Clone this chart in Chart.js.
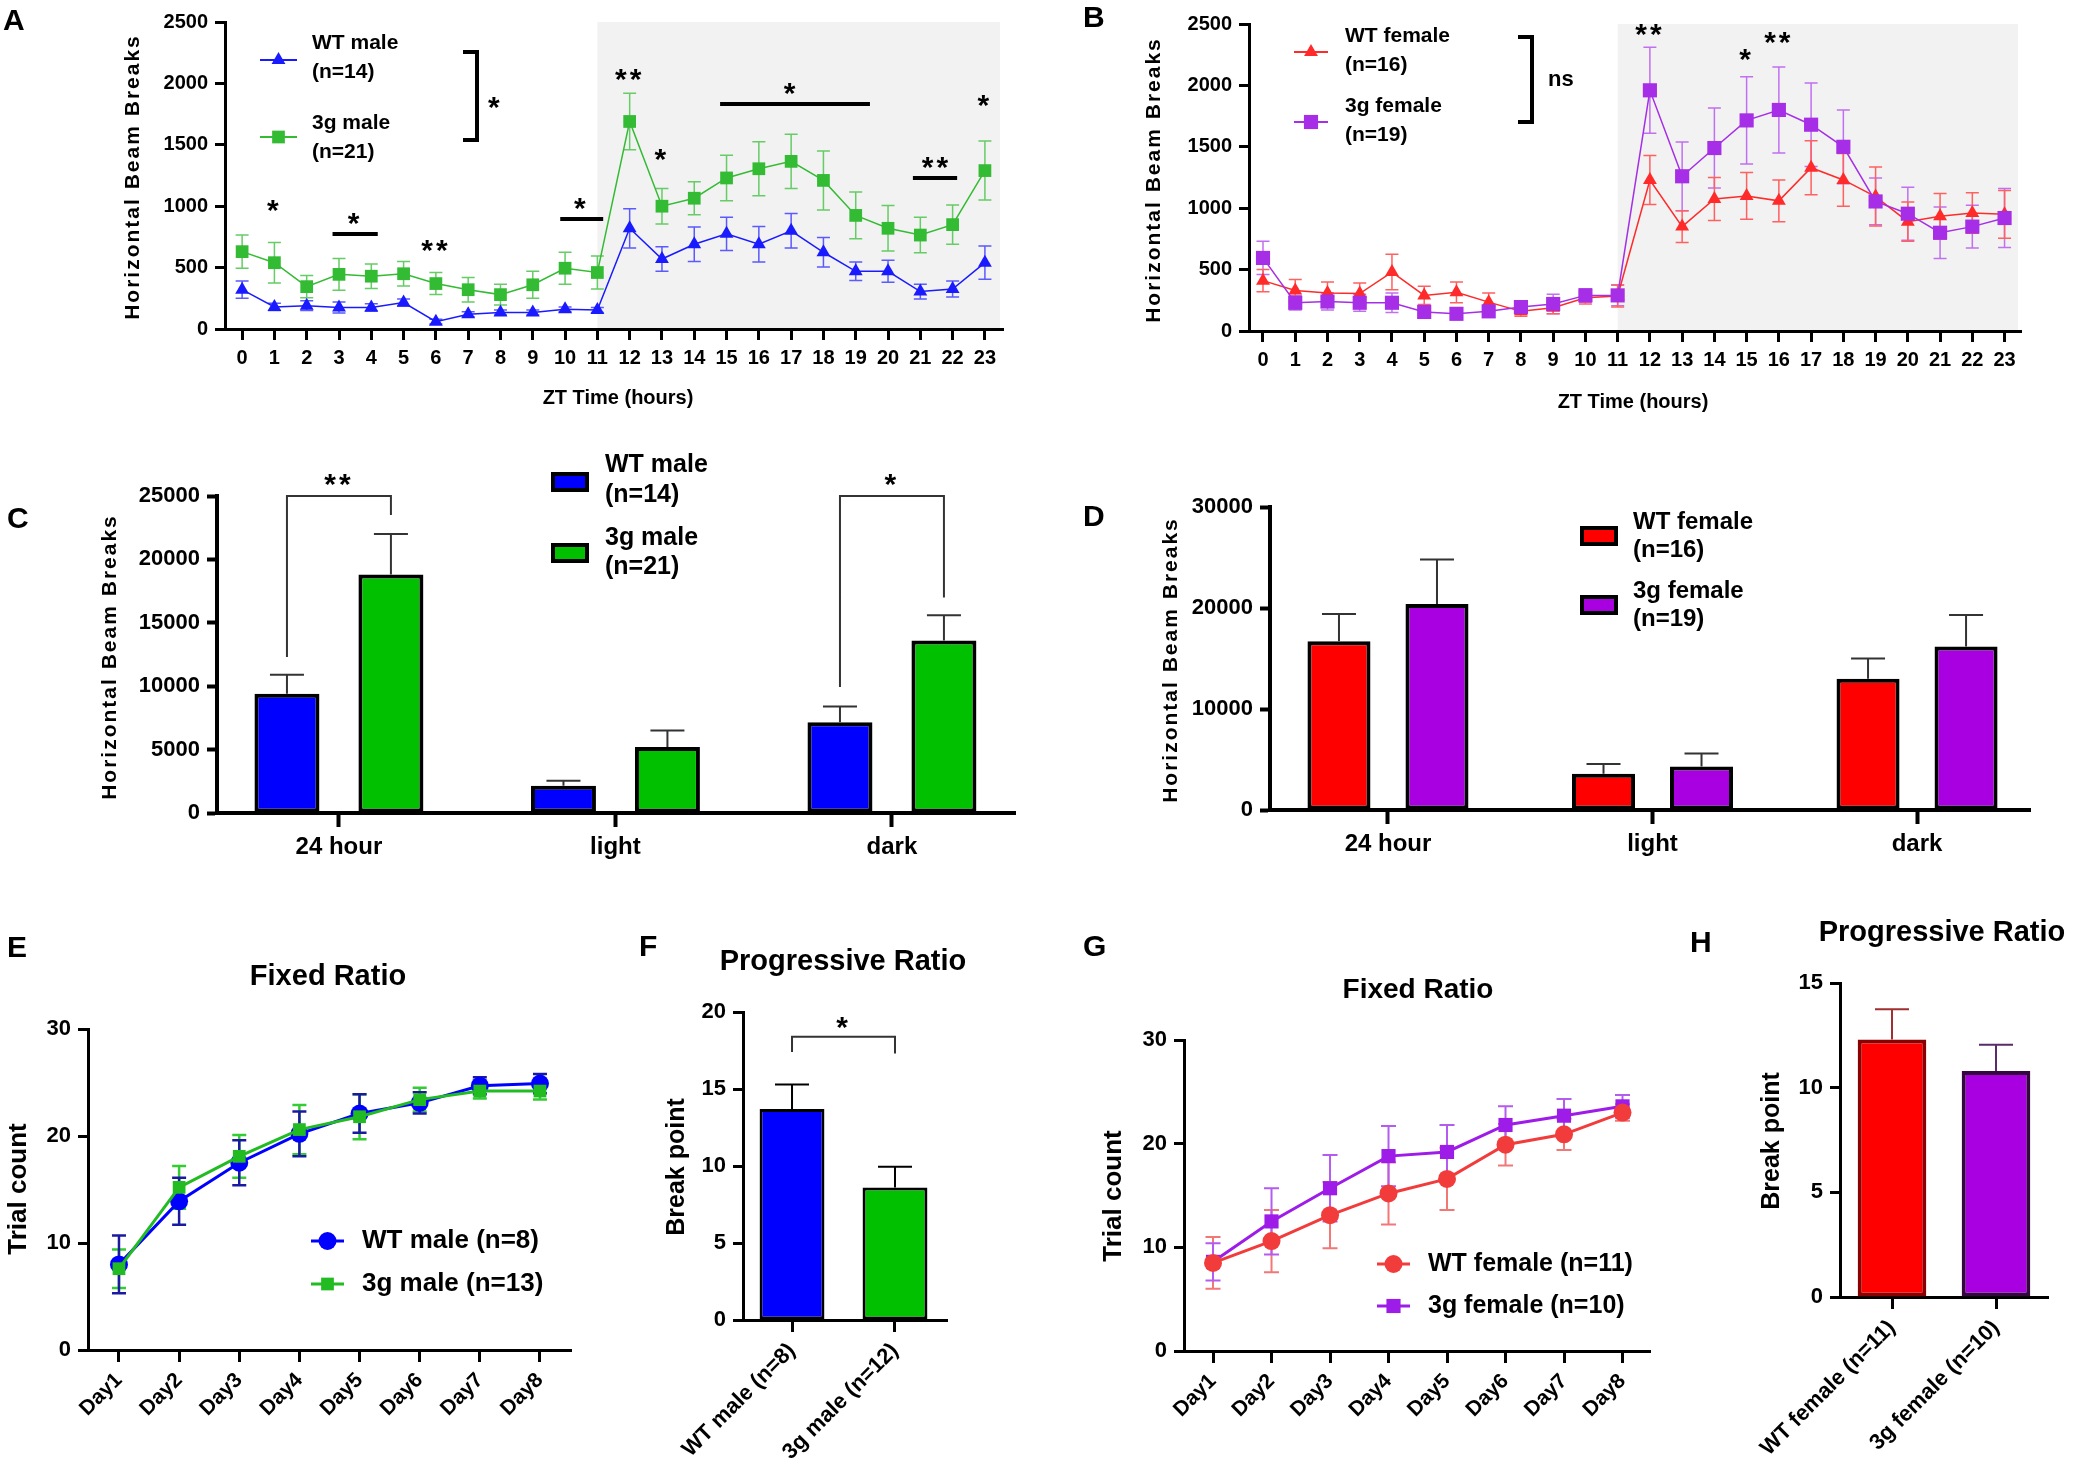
<!DOCTYPE html>
<html>
<head>
<meta charset="utf-8">
<title>Locomotor activity and operant responding</title>
<script src="https://cdn.jsdelivr.net/npm/chart.js@4.4.1/dist/chart.umd.min.js"></script>
<style>
html, body { margin: 0; padding: 0; background: #fff; }
#wrap { position: relative; width: 2085px; height: 1471px; }
#wrap canvas { position: absolute; left: 0; top: 0; }
</style>
</head>
<body>
<div id="wrap">
  <canvas id="cA" width="2085" height="1471"></canvas>
  <canvas id="cB" width="2085" height="1471"></canvas>
  <canvas id="cC" width="2085" height="1471"></canvas>
  <canvas id="cD" width="2085" height="1471"></canvas>
  <canvas id="cE" width="2085" height="1471"></canvas>
  <canvas id="cF" width="2085" height="1471"></canvas>
  <canvas id="cG" width="2085" height="1471"></canvas>
  <canvas id="cH" width="2085" height="1471"></canvas>
</div>
<script>
'use strict';

// ---- data ----
var hours = [0,1,2,3,4,5,6,7,8,9,10,11,12,13,14,15,16,17,18,19,20,21,22,23];
var hourLabels = hours.map(String);

// A: hourly beam breaks, males (mean, sem)
var wtMale = [320,180,190,175,175,215,60,120,135,135,160,155,820,570,690,775,690,800,625,470,470,305,325,540];
var wtMaleErr = [70,30,40,45,30,30,20,20,20,20,20,20,160,100,140,135,145,140,120,75,90,60,65,135];
var gMale = [630,540,345,445,430,450,370,320,280,360,495,460,1690,1000,1065,1230,1305,1365,1210,925,820,765,850,1290];
var gMaleErr = [135,165,90,130,100,100,90,100,85,110,130,135,230,145,135,185,220,220,240,190,185,145,160,240];

// B: hourly beam breaks, females
var wtFemale = [410,330,310,305,480,290,315,235,160,190,270,285,1230,850,1075,1100,1060,1330,1230,1095,890,935,960,950];
var wtFemaleErr = [90,90,90,85,145,75,85,75,40,50,50,90,200,130,175,190,170,220,215,240,160,185,165,195];
var gFemale = [595,230,240,230,230,155,140,160,195,220,290,290,1960,1260,1490,1715,1800,1680,1500,1055,955,800,850,920];
var gFemaleErr = [135,60,70,70,80,45,45,45,40,80,55,85,350,280,325,355,350,340,300,190,215,210,175,240];

// C / D: totals per period
var periods = ['24 hour', 'light', 'dark'];
var wtMaleTotal = [9400, 2150, 7150];
var wtMaleTotalErr = [1500, 400, 1250];
var gMaleTotal = [18800, 5200, 13600];
var gMaleTotalErr = [3200, 1300, 2000];
var wtFemaleTotal = [16700, 3600, 13000];
var wtFemaleTotalErr = [2700, 950, 2000];
var gFemaleTotal = [20400, 4300, 16200];
var gFemaleTotalErr = [4400, 1300, 3100];

// E / G: fixed ratio trials
var days = ['Day1','Day2','Day3','Day4','Day5','Day6','Day7','Day8'];
var wtMaleFR = [8.0, 13.9, 17.5, 20.2, 22.1, 23.1, 24.7, 24.9];
var wtMaleFRErr = [2.7, 2.2, 2.1, 2.1, 1.8, 1.0, 0.8, 0.9];
var gMaleFR = [7.6, 15.2, 18.1, 20.6, 21.8, 23.4, 24.2, 24.2];
var gMaleFRErr = [1.8, 2.0, 2.0, 2.3, 2.1, 1.1, 0.7, 0.8];
var wtFemaleFR = [8.5, 10.6, 13.1, 15.2, 16.6, 19.9, 20.9, 23.0];
var wtFemaleFRErr = [2.5, 3.0, 3.2, 3.0, 3.0, 2.0, 1.5, 0.8];
var gFemaleFR = [8.6, 12.5, 15.7, 18.8, 19.2, 21.8, 22.7, 23.6];
var gFemaleFRErr = [1.8, 3.2, 3.2, 2.9, 2.6, 1.8, 1.6, 1.1];

// F / H: progressive ratio break points
var prMaleGroups = ['WT male (n=8)', '3g male (n=12)'];
var prMale = [13.7, 8.6];
var prMaleErr = [1.6, 1.35];
var prFemaleGroups = ['WT female (n=11)', '3g female (n=10)'];
var prFemale = [12.3, 10.8];
var prFemaleErr = [1.45, 1.25];

// significance marks (data coords: x index, y value)
var starsA = [[1,1026,'*'],[3.5,920,'*'],[6,700,'**'],[10.5,1042,'*'],[12,2100,'**'],[13,1441,'*'],[17,1979,'*'],[21.5,1376,'**'],[23,1881,'*']];
var sigLinesA = [[2.8,4.2,774],[9.85,11.18,896],[14.8,19.44,1832],[20.77,22.14,1230]];
var starsB = [[12,2476,'**'],[15,2272,'*'],[16,2410,'**']];

var FONT = "'Liberation Sans', Arial, Helvetica, sans-serif";
var PAGE_W = 2085, PAGE_H = 1471;
Chart.defaults.font.family = FONT;
Chart.defaults.color = '#000';

// ---- helpers ----
// plot box in page pixels -> layout padding plus fixed axis box sizes
function frame(l, t, r, b) {
  var yw = Math.min(150, l - 2), xh = Math.min(220, PAGE_H - b - 2);
  return { yw: yw, xh: xh, pad: { left: l - yw, top: t, right: PAGE_W - r, bottom: PAGE_H - b - xh } };
}

function axisGrid(tickLen, w) {
  return { drawOnChartArea: false, drawTicks: true, offset: false, tickLength: tickLen, tickWidth: w, tickColor: '#000', color: '#000' };
}

function yScale(fr, max, step, size, w) {
  return {
    type: 'linear', min: 0, max: max,
    ticks: { stepSize: step, color: '#000', font: { weight: 'bold', size: size }, padding: 7,
      callback: function(v) { return String(v); } },
    grid: axisGrid(10, w),
    border: { display: true, color: '#000', width: w },
    afterFit: function(s) { s.width = fr.yw; }
  };
}

function xScale(fr, min, max, labels, size, rot, tickLen, w) {
  return {
    type: 'linear', min: min, max: max, offset: false,
    afterBuildTicks: function(s) { s.ticks = labels.map(function(l, i) { return { value: i }; }); },
    ticks: { autoSkip: false, minRotation: rot, maxRotation: rot, color: '#000', padding: 6,
      font: { weight: 'bold', size: size },
      callback: function(v, i) { return labels[i]; } },
    grid: axisGrid(tickLen, w),
    border: { display: true, color: '#000', width: w },
    afterFit: function(s) { s.height = fr.xh; }
  };
}

function base(fr, x, y) {
  return {
    responsive: false, animation: false, devicePixelRatio: 1, events: [],
    layout: { padding: fr.pad },
    plugins: { legend: { display: false }, tooltip: { enabled: false }, title: { display: false } },
    scales: { x: x, y: y }
  };
}

function points(vals) {
  return vals.map(function(v, i) { return { x: i, y: v }; });
}

function lineSet(label, vals, errs, color, errColor, style, radius, width, cap, errW) {
  return {
    label: label, data: points(vals),
    errors: errs, errorColor: errColor, errorCap: cap, errorWidth: errW, errorBoth: true, errorBelow: true,
    borderColor: color, backgroundColor: color, borderWidth: width,
    pointStyle: style, pointRadius: radius, pointBackgroundColor: color, pointBorderColor: color, pointBorderWidth: 0,
    tension: 0, fill: false, clip: false
  };
}

function barSet(label, vals, errs, fill, border, errColor, cp, bp, bw) {
  return {
    label: label, data: points(vals),
    errors: errs, errorColor: errColor, errorCap: 34, errorWidth: 2, errorBoth: false, errorBelow: false,
    backgroundColor: fill, borderColor: border, borderWidth: bw, borderSkipped: false,
    categoryPercentage: cp, barPercentage: bp
  };
}

function drawErrors(chart, below) {
  var ctx = chart.ctx, ys = chart.scales.y;
  chart.data.datasets.forEach(function(ds, di) {
    if (!ds.errors || !!ds.errorBelow !== below) return;
    var meta = chart.getDatasetMeta(di);
    ctx.save();
    ctx.lineWidth = ds.errorWidth;
    meta.data.forEach(function(el, i) {
      var v = ds.data[i].y, e = ds.errors[i], c = ds.errorCap / 2;
      var yTop = ys.getPixelForValue(v + e);
      var yBot = ds.errorBoth ? ys.getPixelForValue(v - e) : el.y;
      ctx.strokeStyle = Array.isArray(ds.errorColor) ? ds.errorColor[i] : ds.errorColor;
      ctx.beginPath();
      ctx.moveTo(el.x, yTop); ctx.lineTo(el.x, yBot);
      ctx.moveTo(el.x - c, yTop); ctx.lineTo(el.x + c, yTop);
      if (ds.errorBoth) { ctx.moveTo(el.x - c, yBot); ctx.lineTo(el.x + c, yBot); }
      ctx.stroke();
    });
    ctx.restore();
  });
}

var errorBars = {
  id: 'errorBars',
  beforeDatasetsDraw: function(chart) { drawErrors(chart, true); },
  afterDatasetsDraw: function(chart) { drawErrors(chart, false); }
};

// grey box for the dark phase
function shade(fromX) {
  return {
    id: 'shade',
    beforeDraw: function(chart) {
      var a = chart.chartArea, x0 = chart.scales.x.getPixelForValue(fromX);
      chart.ctx.save();
      chart.ctx.fillStyle = '#f2f2f2';
      chart.ctx.fillRect(x0, a.top, a.right - x0 - 3, a.bottom - a.top);
      chart.ctx.restore();
    }
  };
}

function decor(fn) {
  return {
    id: 'decor',
    afterDraw: function(chart) {
      var ctx = chart.ctx;
      ctx.save();
      fn(ctx, chart.scales.x, chart.scales.y, chart);
      ctx.restore();
    }
  };
}

function text(ctx, s, x, y, size, align, spacing) {
  ctx.save();
  ctx.font = 'bold ' + size + 'px ' + FONT;
  ctx.fillStyle = '#000';
  ctx.textAlign = align || 'left';
  ctx.textBaseline = 'middle';
  if (spacing) ctx.letterSpacing = spacing;
  ctx.fillText(s, x, y);
  ctx.restore();
}

function vtext(ctx, s, x, y, size, spacing) {
  ctx.save();
  ctx.font = 'bold ' + size + 'px ' + FONT;
  ctx.fillStyle = '#000';
  ctx.textAlign = 'center';
  ctx.textBaseline = 'middle';
  if (spacing) ctx.letterSpacing = spacing;
  ctx.translate(x, y);
  ctx.rotate(-Math.PI / 2);
  ctx.fillText(s, 0, 0);
  ctx.restore();
}

// asterisks: centre the glyph itself on (x, y)
function star(ctx, s, x, y, size, align) {
  ctx.save();
  ctx.font = 'bold ' + size + 'px ' + FONT;
  ctx.fillStyle = '#000';
  ctx.textAlign = align || 'center';
  ctx.textBaseline = 'alphabetic';
  ctx.letterSpacing = '3px';
  ctx.fillText(s, x, y + size * 0.58);
  ctx.restore();
}

function marker(ctx, style, x, y, r, color) {
  ctx.save();
  ctx.fillStyle = color;
  ctx.beginPath();
  if (style === 'triangle') {
    for (var k = 0; k < 3; k++) {
      var a = k * 2 * Math.PI / 3;
      var px = x + Math.sin(a) * r, py = y - Math.cos(a) * r;
      if (k === 0) ctx.moveTo(px, py); else ctx.lineTo(px, py);
    }
    ctx.closePath();
  } else if (style === 'rect') {
    var s = r * Math.SQRT1_2;
    ctx.rect(x - s, y - s, 2 * s, 2 * s);
  } else {
    ctx.arc(x, y, r, 0, Math.PI * 2);
  }
  ctx.fill();
  ctx.restore();
}

function legendLine(ctx, x0, x1, y, color, style, r, lw) {
  ctx.save();
  ctx.strokeStyle = color;
  ctx.lineWidth = lw;
  ctx.beginPath(); ctx.moveTo(x0, y); ctx.lineTo(x1, y); ctx.stroke();
  ctx.restore();
  marker(ctx, style, (x0 + x1) / 2, y, r, color);
}

function legendBox(ctx, x, y, color) {
  ctx.save();
  ctx.fillStyle = color;
  ctx.fillRect(x - 17, y - 8, 34, 16);
  ctx.strokeStyle = '#000';
  ctx.lineWidth = 4;
  ctx.strokeRect(x - 17, y - 8, 34, 16);
  ctx.restore();
}

function line(ctx, pts, w, color) {
  ctx.save();
  ctx.strokeStyle = color || '#000';
  ctx.lineWidth = w;
  ctx.beginPath();
  ctx.moveTo(pts[0][0], pts[0][1]);
  for (var i = 1; i < pts.length; i++) ctx.lineTo(pts[i][0], pts[i][1]);
  ctx.stroke();
  ctx.restore();
}

// bracket joining two bars, from the element centres
function barBracket(ctx, y, chart, idx, top, leftEnd, rightEnd) {
  var two = chart.data.datasets.length > 1;
  var x0 = chart.getDatasetMeta(0).data[idx].x;
  var x1 = chart.getDatasetMeta(two ? 1 : 0).data[two ? idx : idx + 1].x;
  line(ctx, [[x0, y.getPixelForValue(leftEnd)], [x0, y.getPixelForValue(top)], [x1, y.getPixelForValue(top)], [x1, y.getPixelForValue(rightEnd)]], 2, '#333');
  return (x0 + x1) / 2;
}

// ---- colours ----
var BLUE = '#1a1aff', BLUE_ERR = '#5a5aff';
var GREEN = '#33bb33', GREEN_ERR = '#66cc66';
var RED = '#ff2a2a', RED_ERR = '#ff6060';
var PURPLE = '#a52ee6', PURPLE_ERR = '#c070f0';

// ---- A ----
var frA = frame(225, 22, 1003, 329);
new Chart(document.getElementById('cA'), {
  type: 'line',
  data: { datasets: [
    lineSet('WT male', wtMale, wtMaleErr, BLUE, BLUE_ERR, 'triangle', 8, 1.5, 13, 1.5),
    lineSet('3g male', gMale, gMaleErr, GREEN, GREEN_ERR, 'rect', 9, 1.5, 13, 1.5)
  ] },
  options: base(frA, xScale(frA, -0.53, 23.56, hourLabels, 20, 0, 11, 3), yScale(frA, 2500, 500, 20, 3)),
  plugins: [shade(11), errorBars, decor(function(ctx, x, y) {
    text(ctx, 'A', 3, 22, 30);
    vtext(ctx, 'Horizontal Beam Breaks', 133, 177, 21, '2px');
    text(ctx, 'ZT Time (hours)', 618, 398, 20, 'center');
    legendLine(ctx, 260, 297, 60, BLUE, 'triangle', 8, 2);
    text(ctx, 'WT male', 312, 43, 21);
    text(ctx, '(n=14)', 312, 72, 21);
    legendLine(ctx, 260, 297, 137, GREEN, 'rect', 9, 2);
    text(ctx, '3g male', 312, 123, 21);
    text(ctx, '(n=21)', 312, 152, 21);
    line(ctx, [[463, 52], [477, 52], [477, 140], [463, 140]], 4);
    star(ctx, '*', 488, 100, 30, 'left');
    starsA.forEach(function(s) { star(ctx, s[2], x.getPixelForValue(s[0]), y.getPixelForValue(s[1]), 30); });
    sigLinesA.forEach(function(l) {
      var py = y.getPixelForValue(l[2]);
      line(ctx, [[x.getPixelForValue(l[0]), py], [x.getPixelForValue(l[1]), py]], 4);
    });
  })]
});

// ---- B ----
var frB = frame(1249, 24, 2021, 331);
new Chart(document.getElementById('cB'), {
  type: 'line',
  data: { datasets: [
    lineSet('3g female', gFemale, gFemaleErr, PURPLE, PURPLE_ERR, 'rect', 10, 1.5, 13, 1.5),
    lineSet('WT female', wtFemale, wtFemaleErr, RED, RED_ERR, 'triangle', 8, 1.5, 13, 1.5)
  ] },
  options: base(frB, xScale(frB, -0.434, 23.51, hourLabels, 20, 0, 11, 3), yScale(frB, 2500, 500, 20, 3)),
  plugins: [shade(11), errorBars, decor(function(ctx, x, y) {
    text(ctx, 'B', 1083, 19, 30);
    vtext(ctx, 'Horizontal Beam Breaks', 1154, 180, 21, '2px');
    text(ctx, 'ZT Time (hours)', 1633, 402, 20, 'center');
    legendLine(ctx, 1294, 1328, 52, RED, 'triangle', 8, 2);
    text(ctx, 'WT female', 1345, 36, 21);
    text(ctx, '(n=16)', 1345, 65, 21);
    legendLine(ctx, 1294, 1328, 122, PURPLE, 'rect', 10, 2);
    text(ctx, '3g female', 1345, 106, 21);
    text(ctx, '(n=19)', 1345, 135, 21);
    line(ctx, [[1518, 37], [1532, 37], [1532, 122], [1518, 122]], 4);
    text(ctx, 'ns', 1548, 80, 22);
    starsB.forEach(function(s) { star(ctx, s[2], x.getPixelForValue(s[0]), y.getPixelForValue(s[1]), 30); });
  })]
});

// ---- C ----
var frC = frame(217, 496, 1015, 813);
new Chart(document.getElementById('cC'), {
  type: 'bar',
  data: { datasets: [
    barSet('WT male', wtMaleTotal, wtMaleTotalErr, '#0000ff', '#000', '#333', 0.752, 0.625, 4),
    barSet('3g male', gMaleTotal, gMaleTotalErr, '#00c000', '#000', '#333', 0.752, 0.625, 4)
  ] },
  options: base(frC, xScale(frC, -0.441, 2.445, periods, 24, 0, 14, 4), yScale(frC, 25000, 5000, 22, 4)),
  plugins: [errorBars, decor(function(ctx, x, y, chart) {
    text(ctx, 'C', 7, 520, 30);
    vtext(ctx, 'Horizontal Beam Breaks', 110, 657, 21, '2px');
    legendBox(ctx, 570, 482, '#0000ff');
    text(ctx, 'WT male', 605, 465, 25);
    text(ctx, '(n=14)', 605, 495, 25);
    legendBox(ctx, 570, 553, '#00c000');
    text(ctx, '3g male', 605, 538, 25);
    text(ctx, '(n=21)', 605, 567, 25);
    var m1 = barBracket(ctx, y, chart, 0, 25000, 12300, 23500);
    star(ctx, '**', m1, 477, 30);
    var m2 = barBracket(ctx, y, chart, 2, 25000, 9940, 17000);
    star(ctx, '*', m2, 477, 30);
  })]
});

// ---- D ----
var frD = frame(1270, 507, 2030, 810);
new Chart(document.getElementById('cD'), {
  type: 'bar',
  data: { datasets: [
    barSet('WT female', wtFemaleTotal, wtFemaleTotalErr, '#ff0000', '#000', '#333', 0.741, 0.643, 4),
    barSet('3g female', gFemaleTotal, gFemaleTotalErr, '#a800e0', '#000', '#333', 0.741, 0.643, 4)
  ] },
  options: base(frD, xScale(frD, -0.446, 2.427, periods, 24, 0, 14, 4), yScale(frD, 30000, 10000, 22, 4)),
  plugins: [errorBars, decor(function(ctx) {
    text(ctx, 'D', 1083, 518, 30);
    vtext(ctx, 'Horizontal Beam Breaks', 1171, 660, 21, '2px');
    legendBox(ctx, 1599, 536, '#ff0000');
    text(ctx, 'WT female', 1633, 522, 24);
    text(ctx, '(n=16)', 1633, 550, 24);
    legendBox(ctx, 1599, 605, '#a800e0');
    text(ctx, '3g female', 1633, 591, 24);
    text(ctx, '(n=19)', 1633, 619, 24);
  })]
});

// ---- E ----
var frE = frame(88, 1029, 571, 1350);
new Chart(document.getElementById('cE'), {
  type: 'line',
  data: { datasets: [
    lineSet('3g male (n=13)', gMaleFR, gMaleFRErr, '#22bb22', '#33cc33', 'rect', 9, 3, 14, 2.5),
    lineSet('WT male (n=8)', wtMaleFR, wtMaleFRErr, '#0000ff', '#1a1aa0', 'circle', 9, 3, 14, 2.5)
  ] },
  options: base(frE, xScale(frE, -0.515, 7.516, days, 21, 45, 12, 3), yScale(frE, 30, 10, 22, 3)),
  plugins: [errorBars, decor(function(ctx) {
    text(ctx, 'E', 7, 949, 30);
    text(ctx, 'Fixed Ratio', 328, 977, 29, 'center');
    vtext(ctx, 'Trial count', 19, 1189, 26);
    legendLine(ctx, 311, 344, 1241, '#0000ff', 'circle', 9, 3);
    text(ctx, 'WT male (n=8)', 362, 1241, 26);
    legendLine(ctx, 311, 344, 1284, '#22bb22', 'rect', 9, 3);
    text(ctx, '3g male (n=13)', 362, 1284, 26);
  })]
});

// ---- F ----
var frF = frame(743, 1012, 947, 1320);
new Chart(document.getElementById('cF'), {
  type: 'bar',
  data: { datasets: [
    barSet('Break point', prMale, prMaleErr, ['#0000ff', '#00c000'], '#000', '#000', 1, 0.63, 3)
  ] },
  options: base(frF, xScale(frF, -0.476, 1.505, prMaleGroups, 22, 45, 12, 3), yScale(frF, 20, 5, 22, 3)),
  plugins: [errorBars, decor(function(ctx, x, y, chart) {
    text(ctx, 'F', 639, 948, 30);
    text(ctx, 'Progressive Ratio', 843, 962, 29, 'center');
    vtext(ctx, 'Break point', 677, 1167, 25);
    var m = barBracket(ctx, y, chart, 0, 18.4, 17.4, 17.3);
    star(ctx, '*', m, y.getPixelForValue(19.5), 30);
  })]
});

// ---- G ----
var frG = frame(1184, 1040, 1650, 1351);
new Chart(document.getElementById('cG'), {
  type: 'line',
  data: { datasets: [
    lineSet('WT female (n=11)', wtFemaleFR, wtFemaleFRErr, '#f23c3c', '#f27777', 'circle', 9, 3, 15, 2),
    lineSet('3g female (n=10)', gFemaleFR, gFemaleFRErr, '#9d1ce8', '#b45cf0', 'rect', 10, 3, 15, 2)
  ] },
  options: base(frG, xScale(frG, -0.496, 7.47, days, 21, 45, 12, 3), yScale(frG, 30, 10, 22, 3)),
  plugins: [errorBars, decor(function(ctx) {
    text(ctx, 'G', 1083, 948, 30);
    text(ctx, 'Fixed Ratio', 1418, 990, 28, 'center');
    vtext(ctx, 'Trial count', 1114, 1196, 26);
    legendLine(ctx, 1377, 1410, 1264, '#f23c3c', 'circle', 9, 3);
    text(ctx, 'WT female (n=11)', 1428, 1264, 25);
    legendLine(ctx, 1377, 1410, 1306, '#9d1ce8', 'rect', 10, 3);
    text(ctx, '3g female (n=10)', 1428, 1306, 25);
  })]
});

// ---- H ----
var frH = frame(1840, 983, 2048, 1297);
new Chart(document.getElementById('cH'), {
  type: 'bar',
  data: { datasets: [
    barSet('Break point', prFemale, prFemaleErr, ['#ff0000', '#a800e0'], ['#8b0000', '#34083f'], ['#a03030', '#5a2a6a'], 1, 0.66, 4)
  ] },
  options: base(frH, xScale(frH, -0.5, 1.5, prFemaleGroups, 22, 45, 12, 3), yScale(frH, 15, 5, 22, 3)),
  plugins: [errorBars, decor(function(ctx) {
    text(ctx, 'H', 1690, 944, 30);
    text(ctx, 'Progressive Ratio', 1942, 933, 29, 'center');
    vtext(ctx, 'Break point', 1772, 1141, 25);
  })]
});
</script>
</body>
</html>
